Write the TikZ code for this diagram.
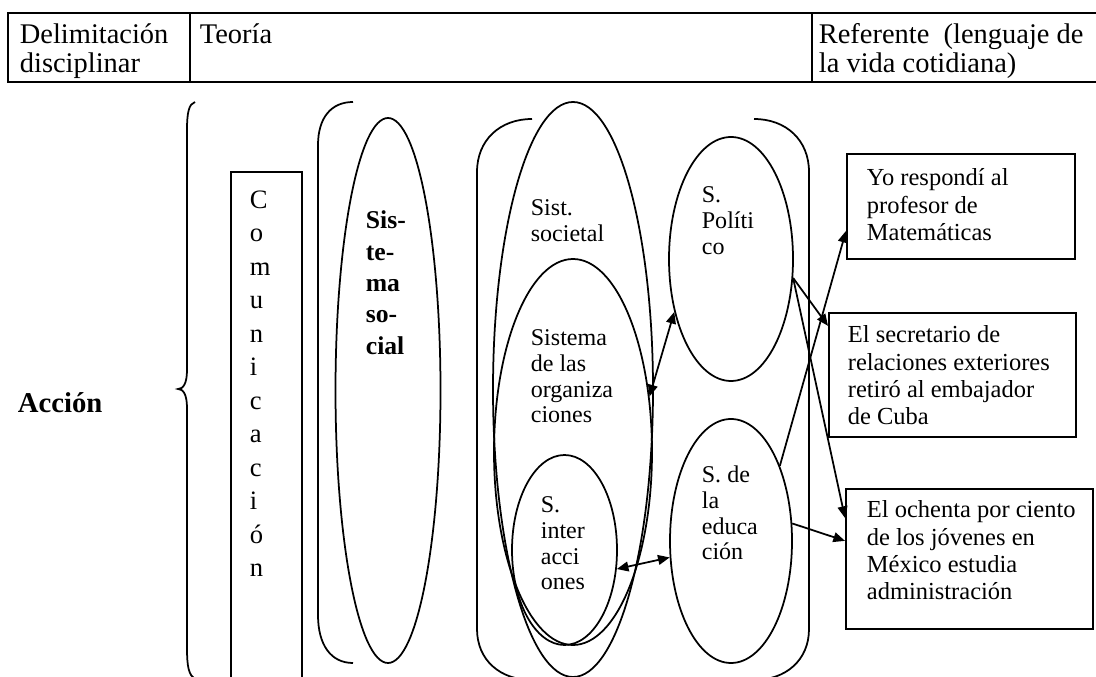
\documentclass[tikz,border=0pt]{standalone}
\usepackage{fontspec}
\setmainfont{Liberation Serif}
\usetikzlibrary{shapes.geometric,arrows.meta}
\def\px{0.4288pt}
\newcommand{\mylines}[1]{\begin{tabular}[t]{@{}l@{}}#1\end{tabular}}
\tikzset{
  hcell/.style={rectangle, draw, line width=0.9pt, inner sep=0pt, anchor=north west, minimum height=69*\px},
  stybox/.style={rectangle, draw, inner sep=0pt, anchor=north west},
  styell/.style={ellipse, draw, inner sep=0pt},
  txt/.style={anchor=base west, inner sep=0pt},
  hdrtxt/.style={txt, font=\fontsize{12.2}{12.4}\selectfont},
  elltxt/.style={txt, font=\fontsize{10.3}{11}\selectfont},
  boxtxt/.style={txt, font=\fontsize{10.5}{11.7}\selectfont},
  arr/.style={-{Triangle[length=5pt,width=4.2pt]}},
  darr/.style={{Triangle[length=5pt,width=4.2pt]}-{Triangle[length=5pt,width=4.2pt]}},
  bracketline/.style={line width=0.75pt}
}
\begin{document}
\begin{tikzpicture}[x=0.4288pt, y=-0.4288pt, line width=0.75pt]
\useasboundingbox (0,0) rectangle (1096,677);
\clip (0,0) rectangle (1096,677);

% header table
\node[hcell, minimum width=182*\px] (c1) at (7,12) {};
\node[hcell, minimum width=622*\px] (c2) at (189,12) {};
\node[hcell, minimum width=310*\px] (c3) at (811,12) {};
\node[hdrtxt] (t1) at (19,44) {\mylines{Delimitación\\disciplinar}};
\node[hdrtxt] (t2) at (199,44) {Teoría};
\node[hdrtxt] (t3) at (818,44) {\mylines{Referente\ \ (lenguaje de\\la vida cotidiana)}};

% Accion + brace
\node[txt, font=\bfseries\fontsize{12.3}{14}\selectfont] (acc) at (17,413) {Acción};
\draw[bracketline] (195,102) .. controls (189,104) and (187,112) .. (187,130)
  -- (187,370) .. controls (187,384) and (183,389) .. (178,389)
  .. controls (183,389) and (187,394) .. (187,408)
  -- (187,648) .. controls (187,668) and (189,675) .. (195,679);

% Comunicacion
\node[stybox, minimum width=71*\px, minimum height=540*\px] (com) at (230,171) {};
\node[txt, font=\fontsize{11.4}{14.36}\selectfont] (comt) at (249,208.5)
  {\mylines{C\\o\\m\\u\\n\\i\\c\\a\\c\\i\\ó\\n}};

% Sistema social
\draw[bracketline] (353,102) .. controls (331,102) and (318,118) .. (318,145)
  -- (318,615) .. controls (318,645) and (331,663) .. (353,663);
\node[styell, minimum width=105*\px, minimum height=545*\px] (ssoc) at (388,390.5) {};
\node[txt, font=\bfseries\fontsize{11}{13.42}\selectfont] (ssoct) at (365,229)
  {\mylines{Sis-\\te-\\ma\\so-\\cial}};

% big bracket
\draw[bracketline] (532,119) .. controls (500,119) and (477,140) .. (477,172)
  -- (477,629) .. controls (477,660) and (500,680) .. (532,680);
\draw[bracketline] (754,119) .. controls (786,119) and (809,140) .. (809,172)
  -- (809,629) .. controls (809,660) and (786,680) .. (754,680);

% ellipses
\node[styell, minimum width=160*\px, minimum height=575*\px] (soc) at (573,389.5) {};
\node[styell, minimum width=158*\px, minimum height=386*\px] (org) at (573,452) {};
\node[styell, minimum width=105*\px, minimum height=190*\px] (int) at (564.5,550) {};
\node[styell, minimum width=124*\px, minimum height=244*\px] (pol) at (731,259) {};
\node[styell, minimum width=122*\px, minimum height=244*\px] (edu) at (731,541) {};

\node[elltxt] (soct) at (530,216) {\mylines{Sist.\\societal}};
\node[elltxt] (orgt) at (530,346) {\mylines{Sistema\\de las\\organiza\\ciones}};
\node[elltxt] (intt) at (540,513) {\mylines{S.\\inter\\acci\\ones}};
\node[elltxt] (polt) at (701,203) {\mylines{S.\\Políti\\co}};
\node[elltxt] (edut) at (701,483) {\mylines{S. de\\la\\educa\\ción}};

% boxes
\node[stybox, minimum width=228*\px, minimum height=105*\px] (b1) at (846,153) {};
\node[stybox, minimum width=247*\px, minimum height=124*\px] (b2) at (828,312) {};
\node[stybox, minimum width=247*\px, minimum height=140*\px] (b3) at (845,488) {};
\node[boxtxt] (b1t) at (866,186) {\mylines{Yo respondí al\\profesor de\\Matemáticas}};
\node[boxtxt] (b2t) at (847,343) {\mylines{El secretario de\\relaciones exteriores\\retiró al embajador\\de Cuba}};
\node[boxtxt] (b3t) at (866,518) {\mylines{El ochenta por ciento\\de los jóvenes en\\México estudia\\administración}};

% arrows
\draw[darr] (org.36) -- (pol.223);
\draw[darr] (int.340) -- (edu.195);
\draw[arr] (edu.57) -- ([yshift=-24.5*\px]b1.west);
\draw[arr] (pol.-17) -- ([yshift=49*\px]b2.west);
\draw[arr] (pol.-17) -- ([yshift=-30*\px]b3.north west);
\draw[arr] (edu.16) -- ([yshift=18*\px]b3.west);
\end{tikzpicture}
\end{document}
